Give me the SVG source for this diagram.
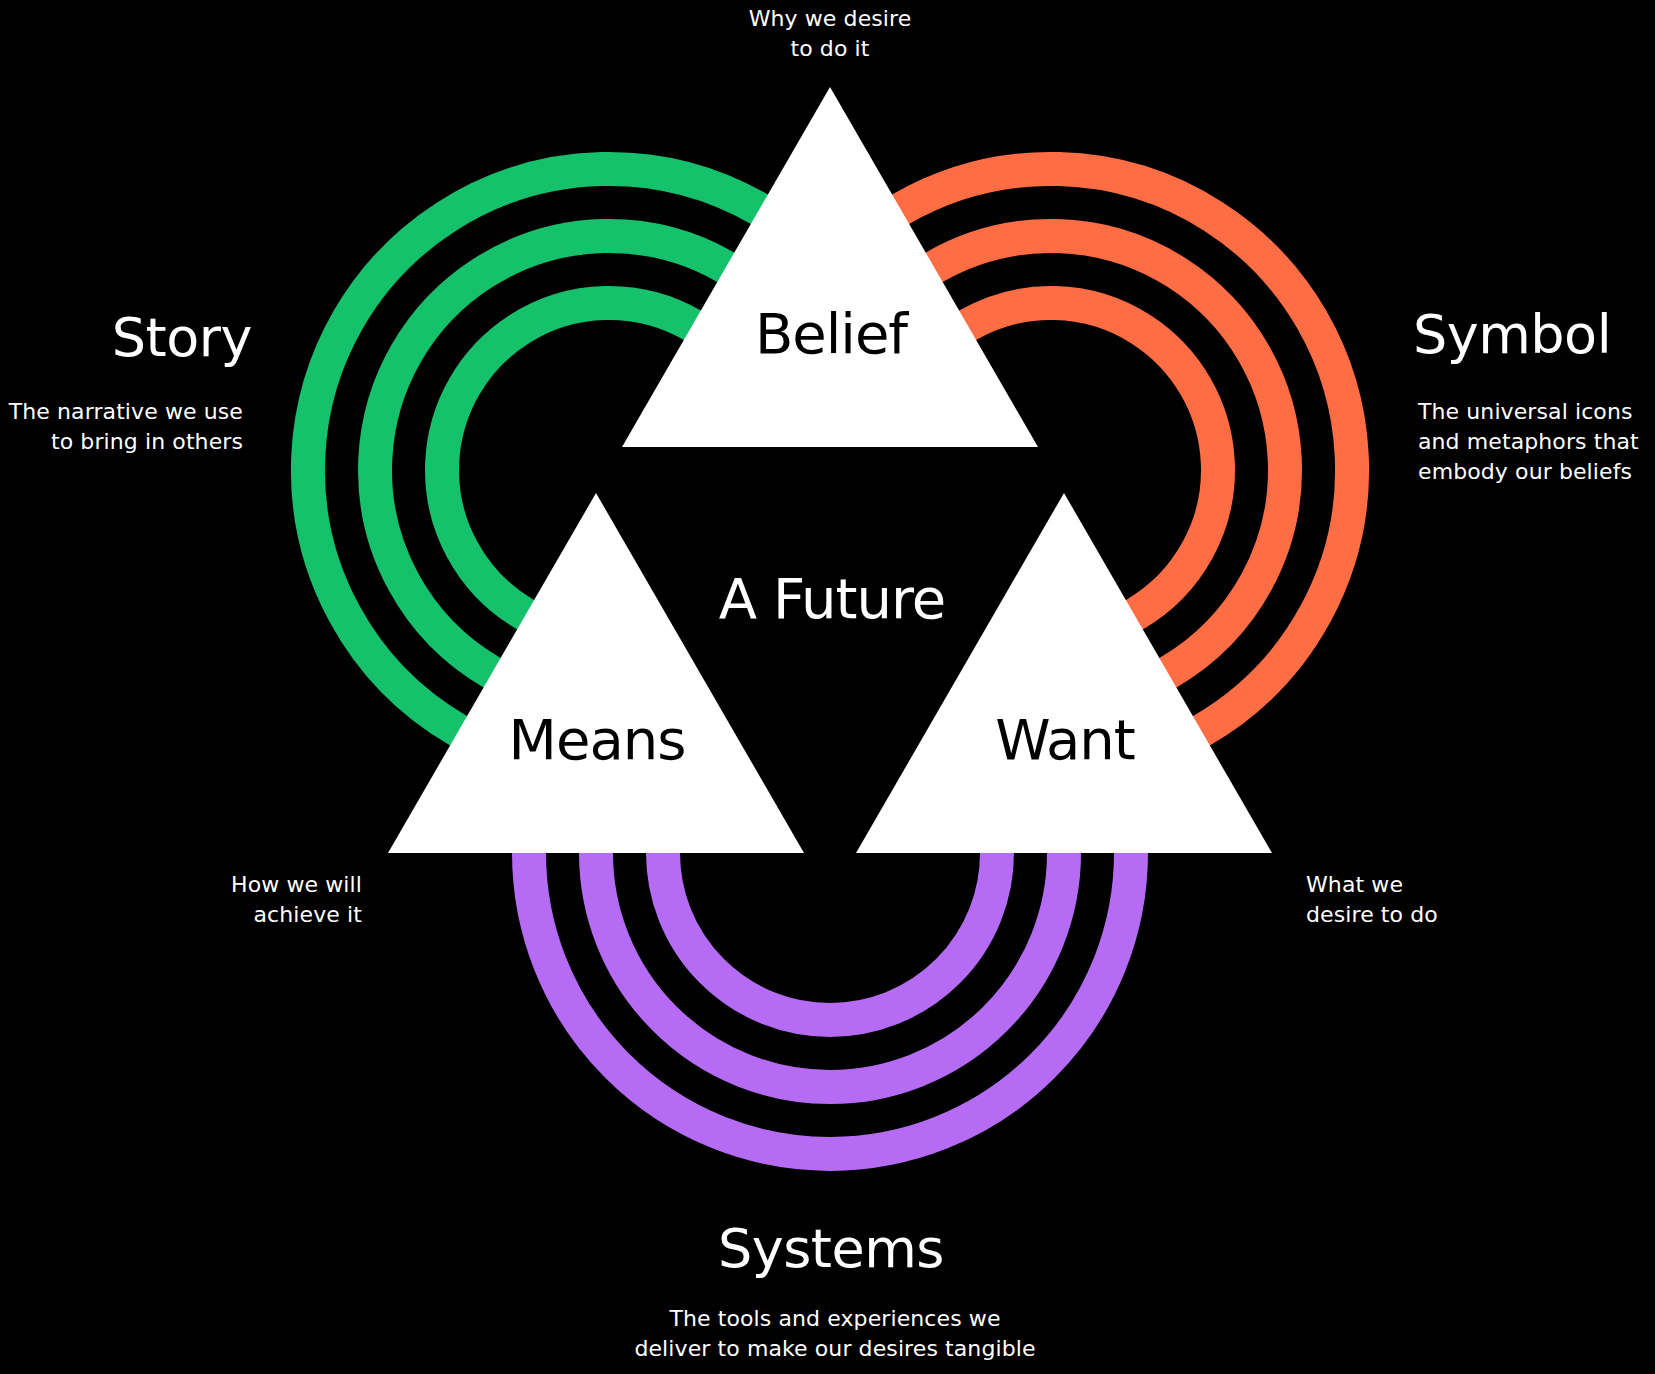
<svg xmlns="http://www.w3.org/2000/svg" width="1655" height="1374" viewBox="0 0 1655 1374">
  <style>
    .tri { fill: #ffffff; }
    .big { font-family: "DejaVu Sans", "Liberation Sans", sans-serif; font-size: 56px; letter-spacing: -1px; }
    .title { font-family: "DejaVu Sans", "Liberation Sans", sans-serif; font-size: 54px; fill: #ffffff; letter-spacing: -0.5px; }
    .desc { font-family: "DejaVu Sans", "Liberation Sans", sans-serif; font-size: 22px; fill: #ffffff; letter-spacing: 0.1px; }
    .dark { fill: #000000; }
    .light { fill: #ffffff; }
    .arc { fill: none; stroke-width: 34; stroke-linecap: butt; }
    .green { stroke: #15C16B; }
    .orange { stroke: #FF6D45; }
    .purple { stroke: #B66BF5; }
  </style>
  <rect x="0" y="0" width="1655" height="1374" fill="#000000"/>

  <g id="connectors">
    <g id="story-arcs">
      <path class="arc green" d="M 861.4 306.1 A 301 301 0 1 0 593.3 770.6"/>
      <path class="arc green" d="M 805.3 342.6 A 234 234 0 1 0 596.8 703.7"/>
      <path class="arc green" d="M 749.1 379.1 A 167 167 0 1 0 600.3 636.8"/>
    </g>
    <g id="symbol-arcs">
      <path class="arc orange" d="M 798.6 306.1 A 301 301 0 1 1 1066.7 770.6"/>
      <path class="arc orange" d="M 854.7 342.6 A 234 234 0 1 1 1063.2 703.7"/>
      <path class="arc orange" d="M 910.9 379.1 A 167 167 0 1 1 1059.7 636.8"/>
    </g>
    <g id="systems-arcs">
      <path class="arc purple" d="M 529 830 V 853 A 301 301 0 0 0 1131 853 V 830"/>
      <path class="arc purple" d="M 596 830 V 853 A 234 234 0 0 0 1064 853 V 830"/>
      <path class="arc purple" d="M 663 830 V 853 A 167 167 0 0 0 997 853 V 830"/>
    </g>
  </g>

  <g id="belief">
    <polygon class="tri" points="830,87 622,447 1038,447"/>
    <text class="big dark" x="831" y="353" text-anchor="middle">Belief</text>
    <text class="desc" x="830" y="26" text-anchor="middle">Why we desire</text>
    <text class="desc" x="830" y="56" text-anchor="middle">to do it</text>
  </g>

  <g id="means">
    <polygon class="tri" points="596,493 388,853 804,853"/>
    <text class="big dark" x="597" y="759" text-anchor="middle">Means</text>
    <text class="desc" x="362" y="892" text-anchor="end">How we will</text>
    <text class="desc" x="362" y="922" text-anchor="end">achieve it</text>
  </g>

  <g id="want">
    <polygon class="tri" points="1064,493 856,853 1272,853"/>
    <text class="big dark" x="1065" y="759" text-anchor="middle">Want</text>
    <text class="desc" x="1306" y="892" text-anchor="start">What we</text>
    <text class="desc" x="1306" y="922" text-anchor="start">desire to do</text>
  </g>

  <g id="future">
    <text class="big light" x="832" y="618" text-anchor="middle">A Future</text>
  </g>

  <g id="story">
    <text class="title" x="252" y="356" text-anchor="end">Story</text>
    <text class="desc" x="243" y="419" text-anchor="end">The narrative we use</text>
    <text class="desc" x="243" y="449" text-anchor="end">to bring in others</text>
  </g>

  <g id="symbol">
    <text class="title" x="1413" y="353" text-anchor="start">Symbol</text>
    <text class="desc" x="1418" y="419" text-anchor="start">The universal icons</text>
    <text class="desc" x="1418" y="449" text-anchor="start">and metaphors that</text>
    <text class="desc" x="1418" y="479" text-anchor="start">embody our beliefs</text>
  </g>

  <g id="systems">
    <text class="title" x="831" y="1267" text-anchor="middle">Systems</text>
    <text class="desc" x="835" y="1326" text-anchor="middle">The tools and experiences we</text>
    <text class="desc" x="835" y="1356" text-anchor="middle">deliver to make our desires tangible</text>
  </g>
</svg>
